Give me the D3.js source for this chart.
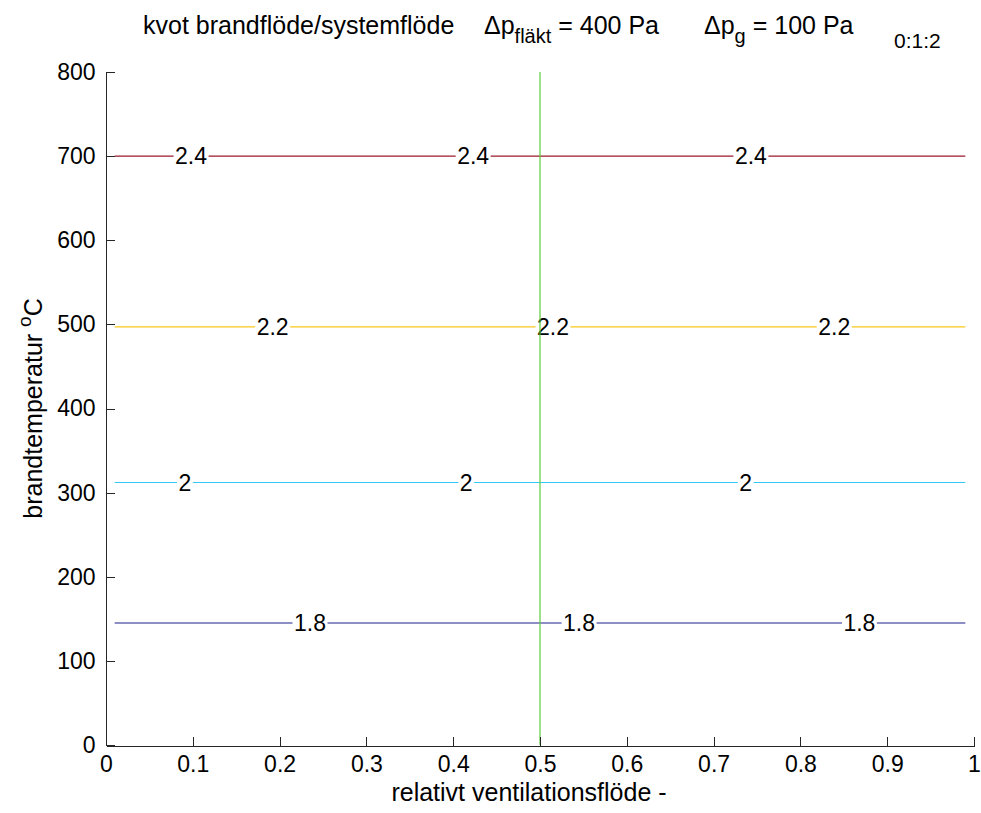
<!DOCTYPE html>
<html>
<head>
<meta charset="utf-8">
<script src="https://cdn.jsdelivr.net/npm/d3@7"></script>
<style>
  html, body { margin: 0; padding: 0; background: #fff; }
  svg { display: block; font-family: "Liberation Sans", Arial, Helvetica, sans-serif; }
</style>
</head>
<body>
<svg id="chart" width="981" height="813"></svg>
<script>
// Contour levels of the flow ratio and the fire temperature (°C) at which each lies
const levels = [1.8, 2.0, 2.2, 2.4];
const levelTemps = [145, 312, 497, 700];
// Extent of each contour along the relative ventilation flow
const contourStart = 0.01;
const contourEnd = 0.99;
// Where the inline level labels sit along each contour
const labelPositions = [
  [0.235, 0.545, 0.868],
  [0.091, 0.415, 0.737],
  [0.192, 0.515, 0.839],
  [0.098, 0.423, 0.743]
];
// Vertical reference line at this relative ventilation flow
const referenceFlow = 0.5;
const referenceSpan = [0, 800];
// Axis ticks
const xTicks = [0, 0.1, 0.2, 0.3, 0.4, 0.5, 0.6, 0.7, 0.8, 0.9, 1];
const xTickLabels = ["0", "0.1", "0.2", "0.3", "0.4", "0.5", "0.6", "0.7", "0.8", "0.9", "1"];
const yTicks = [0, 100, 200, 300, 400, 500, 600, 700, 800];

// Styling
const levelColors = ["#1e1e8e", "#33c8f5", "#f8c81c", "#9a1a2a"];
const referenceColor = "#5ccc3c";
const axisColor = "#262626";

const svg = d3.select("#chart");
const margin = { left: 106, right: 7, top: 72, bottom: 68 };
const W = +svg.attr("width"), H = +svg.attr("height");

const x = d3.scaleLinear().domain([0, 1]).range([margin.left, W - margin.right]);
const y = d3.scaleLinear().domain([0, 800]).range([H - margin.bottom, margin.top]);

// Contour lines, broken where the labels sit
const labelFont = 23;
const measure = svg.append("text").attr("font-size", labelFont).attr("visibility", "hidden");
function textWidth(s) { measure.text(s); return measure.node().getComputedTextLength(); }

const contours = svg.append("g");
levels.forEach((lv, i) => {
  const txt = String(lv);
  const w = textWidth(txt) + 3;
  // split the contour into segments around label gaps
  const gaps = labelPositions[i].map(p => [x.invert(x(p) - w / 2), x.invert(x(p) + w / 2)]);
  const segs = [];
  let s = contourStart;
  gaps.forEach(g => { segs.push([s, g[0]]); s = g[1]; });
  segs.push([s, contourEnd]);
  const line = d3.line().x(d => x(d[0])).y(d => y(d[1]));
  segs.forEach(seg => {
    contours.append("path")
      .attr("d", line([[seg[0], levelTemps[i]], [seg[1], levelTemps[i]]]))
      .attr("fill", "none")
      .attr("stroke", levelColors[i])
      .attr("stroke-width", 1.1);
  });
  labelPositions[i].forEach(p => {
    contours.append("text")
      .attr("x", x(p))
      .attr("y", y(levelTemps[i]))
      .attr("dy", "0.36em")
      .attr("text-anchor", "middle")
      .attr("font-size", labelFont)
      .attr("fill", "#000")
      .text(txt);
  });
});
measure.remove();

// Reference line
svg.append("path")
  .attr("d", d3.line().x(d => x(d[0])).y(d => y(d[1]))([[referenceFlow, referenceSpan[0]], [referenceFlow, referenceSpan[1]]]))
  .attr("stroke", referenceColor)
  .attr("stroke-width", 1.2)
  .attr("fill", "none");

// Axes (ticks pointing inward)
const tickFont = 23;
const xAxis = d3.axisBottom(x).tickValues(xTicks).tickFormat((d, i) => xTickLabels[i])
  .tickSizeInner(-9).tickSizeOuter(0).tickPadding(10);
const gx = svg.append("g").attr("transform", `translate(0,${y(0) + 0.5})`).call(xAxis);
const yAxis = d3.axisLeft(y).tickValues(yTicks).tickFormat(d3.format("d"))
  .tickSizeInner(-9).tickSizeOuter(0).tickPadding(10);
const gy = svg.append("g").attr("transform", `translate(${x(0) - 0.5},0)`).call(yAxis);
[gx, gy].forEach(g => {
  g.select(".domain").attr("stroke", axisColor).attr("shape-rendering", "crispEdges");
  g.selectAll(".tick line").attr("stroke", axisColor).attr("shape-rendering", "crispEdges");
  g.selectAll(".tick text").attr("font-size", tickFont).attr("fill", "#000")
    .attr("font-family", "'Liberation Sans', Arial, sans-serif");
});
gx.selectAll(".tick text").attr("dy", "0.71em");

// Axis titles
svg.append("text")
  .attr("x", 529)
  .attr("y", 801)
  .attr("text-anchor", "middle")
  .attr("font-size", 25)
  .text("relativt ventilationsflöde  -");

const yl = svg.append("text")
  .attr("transform", `translate(42,${y(400)}) rotate(-90)`)
  .attr("text-anchor", "middle")
  .attr("font-size", 25);
yl.append("tspan").text("brandtemperatur  ");
yl.append("tspan").attr("font-size", 19).attr("dy", -11).text("o");
yl.append("tspan").attr("dy", 11).text("C");

// Chart title
const title = svg.append("text").attr("y", 34).attr("font-size", 25);
title.append("tspan").attr("x", 143).text("kvot brandflöde/systemflöde");
title.append("tspan").attr("x", 484).text("Δp");
title.append("tspan").attr("font-size", 20).attr("dy", 9).text("fläkt");
title.append("tspan").attr("dy", -9).text(" = 400 Pa");
title.append("tspan").attr("x", 704).text("Δp");
title.append("tspan").attr("font-size", 20).attr("dy", 9).text("g");
title.append("tspan").attr("dy", -9).text(" = 100 Pa");
svg.append("text").attr("x", 894).attr("y", 48).attr("font-size", 21).text("0:1:2");
</script>
</body>
</html>
